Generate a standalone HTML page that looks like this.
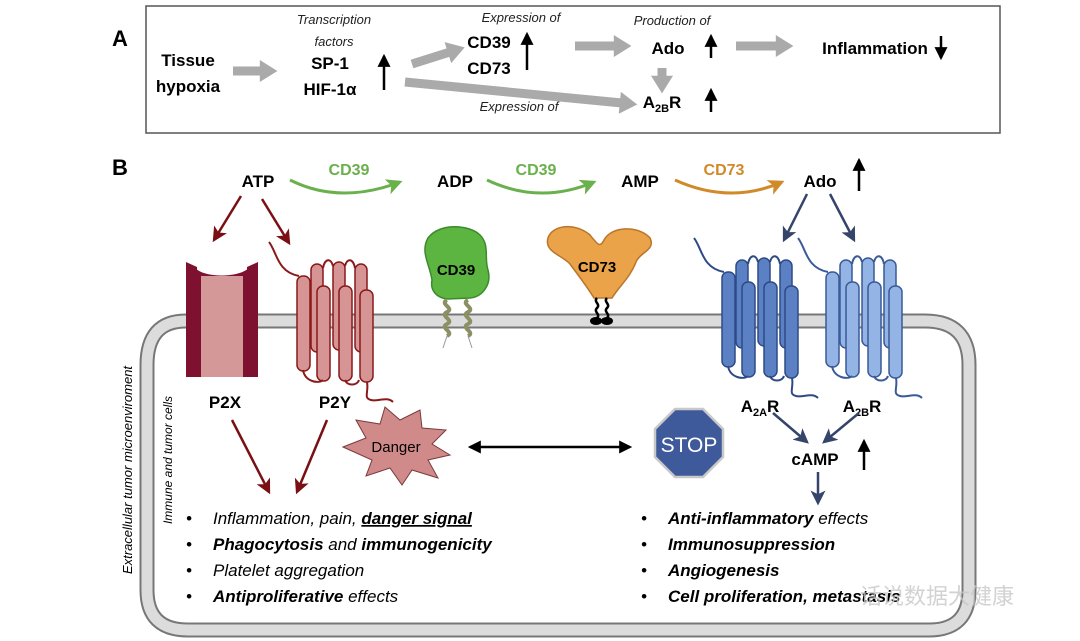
<!DOCTYPE html>
<html><head><meta charset="utf-8"><style>
body{margin:0;background:#fff}
svg{display:block;font-family:"Liberation Sans",Arial,sans-serif}
</style></head><body>
<svg width="1080" height="641" viewBox="0 0 1080 641" xmlns="http://www.w3.org/2000/svg">
<defs>
<symbol id="gp" overflow="visible">
 <path d="M-28,-20 C-20,-10 -20,10 2,14" fill="none" stroke-width="2"/>
 <g>
  <rect x="14" y="2" width="12" height="88" rx="6"/>
  <rect x="36" y="0" width="12" height="88" rx="6"/>
  <rect x="58" y="2" width="12" height="88" rx="6"/>
  <path d="M26,6 C28,-4 34,-4 36,4 M48,4 C50,-4 56,-4 58,6" fill="none" stroke-width="2"/>
  <rect x="0" y="14" width="13" height="95" rx="6"/>
  <rect x="20" y="24" width="13" height="95" rx="6"/>
  <rect x="42" y="24" width="13" height="95" rx="6"/>
  <rect x="63" y="28" width="13" height="92" rx="6"/>
  <path d="M6,108 C8,120 22,122 26,118 M48,118 C50,124 60,124 62,118 M70,120 C72,130 66,136 74,138 C80,140 90,134 96,140" fill="none" stroke-width="2"/>
 </g>
</symbol>
<marker id="ar" markerUnits="userSpaceOnUse" viewBox="0 0 12 12" markerWidth="15" markerHeight="15" refX="10" refY="6" orient="auto"><path d="M0,0 L12,6 L0,12 L3,6 Z" fill="#7a1014"/></marker>
<marker id="ab" markerUnits="userSpaceOnUse" viewBox="0 0 12 12" markerWidth="15" markerHeight="15" refX="10" refY="6" orient="auto"><path d="M0,0 L12,6 L0,12 L3,6 Z" fill="#34446a"/></marker>
<marker id="ag" markerUnits="userSpaceOnUse" viewBox="0 0 12 12" markerWidth="16" markerHeight="16" refX="10" refY="6" orient="auto"><path d="M0,0 L12,6 L0,12 L3,6 Z" fill="#6ab04c"/></marker>
<marker id="ao" markerUnits="userSpaceOnUse" viewBox="0 0 12 12" markerWidth="16" markerHeight="16" refX="10" refY="6" orient="auto"><path d="M0,0 L12,6 L0,12 L3,6 Z" fill="#d08a2a"/></marker>
<marker id="ak" markerUnits="userSpaceOnUse" viewBox="0 0 12 12" markerWidth="13" markerHeight="13" refX="10" refY="6" orient="auto-start-reverse"><path d="M0,0 L12,6 L0,12 Z" fill="#000"/></marker>
<marker id="gy" markerUnits="userSpaceOnUse" viewBox="0 0 16 20" markerWidth="18" markerHeight="22" refX="2" refY="10" orient="auto"><path d="M0,0 L16,10 L0,20 Z" fill="#aaa"/></marker>
</defs>

<text x="112" y="46" font-size="22" font-weight="bold">A</text>
<rect x="146" y="6" width="854" height="127" fill="none" stroke="#555" stroke-width="1.5"/>
<g font-weight="bold" font-size="17" text-anchor="middle">
<text x="188" y="66">Tissue</text><text x="188" y="92">hypoxia</text>
<text x="330" y="69">SP-1</text><text x="330" y="95">HIF-1α</text>
<text x="489" y="48">CD39</text><text x="489" y="74">CD73</text>
<text x="668" y="54">Ado</text>
<text x="875" y="54">Inflammation</text>
<text x="662" y="108">A<tspan font-size="11" dy="4">2B</tspan><tspan dy="-4">R</tspan></text>
</g>
<g font-style="italic" font-size="13" text-anchor="middle" fill="#222">
<text x="334" y="24">Transcription</text><text x="334" y="46">factors</text>
<text x="521" y="22">Expression of</text>
<text x="672" y="25">Production of</text>
<text x="519" y="111">Expression of</text>
</g>
<g stroke="#aaa" fill="none" stroke-width="9" marker-end="url(#gy)">
<line x1="233" y1="71" x2="262" y2="71"/>
<line x1="412" y1="64" x2="450" y2="52"/>
<line x1="405" y1="82" x2="622" y2="103"/>
<line x1="575" y1="46" x2="616" y2="46"/>
<line x1="736" y1="46" x2="778" y2="46"/>
<line x1="662" y1="68" x2="662" y2="78"/>
</g>
<g stroke="#000" stroke-width="2.5" marker-end="url(#ak)">
<line x1="384" y1="90" x2="384" y2="56"/>
<line x1="527" y1="70" x2="527" y2="34"/>
<line x1="711" y1="58" x2="711" y2="36"/>
<line x1="711" y1="112" x2="711" y2="90"/>
<line x1="941" y1="36" x2="941" y2="58"/>
</g>

<text x="112" y="175" font-size="22" font-weight="bold">B</text>
<path d="M186,321 H925 Q969,321 969,365 V590 Q969,630 929,630 H188 Q147,630 147,590 V365 Q147,321 186,321 Z" fill="none" stroke="#777" stroke-width="15"/>
<path d="M186,321 H925 Q969,321 969,365 V590 Q969,630 929,630 H188 Q147,630 147,590 V365 Q147,321 186,321 Z" fill="none" stroke="#dcdcdc" stroke-width="11"/>

<g font-weight="bold" font-size="17" text-anchor="middle">
<text x="258" y="187">ATP</text><text x="455" y="187">ADP</text><text x="640" y="187">AMP</text><text x="820" y="187">Ado</text>
<text x="225" y="408">P2X</text><text x="335" y="408">P2Y</text>
<text x="760" y="412">A<tspan font-size="11" dy="4">2A</tspan><tspan dy="-4">R</tspan></text>
<text x="862" y="412">A<tspan font-size="11" dy="4">2B</tspan><tspan dy="-4">R</tspan></text>
<text x="815" y="465">cAMP</text>
</g>
<g font-weight="bold" font-size="16" text-anchor="middle">
<text x="349" y="175" fill="#6ab04c">CD39</text><text x="536" y="175" fill="#6ab04c">CD39</text><text x="724" y="175" fill="#d08a2a">CD73</text>
</g>
<path d="M290,180 Q340,205 400,182" fill="none" stroke="#6ab04c" stroke-width="3" marker-end="url(#ag)"/>
<path d="M487,180 Q540,205 594,182" fill="none" stroke="#6ab04c" stroke-width="3" marker-end="url(#ag)"/>
<path d="M675,180 Q730,205 782,182" fill="none" stroke="#d08a2a" stroke-width="3" marker-end="url(#ao)"/>
<g stroke="#000" stroke-width="2.5" marker-end="url(#ak)">
<line x1="859" y1="191" x2="859" y2="160"/>
<line x1="864" y1="470" x2="864" y2="441"/>
</g>
<g stroke="#7a1014" stroke-width="2.5" marker-end="url(#ar)">
<line x1="241" y1="196" x2="214" y2="240"/>
<line x1="262" y1="199" x2="289" y2="243"/>
<line x1="232" y1="420" x2="269" y2="492"/>
<line x1="327" y1="420" x2="297" y2="492"/>
</g>
<g stroke="#34446a" stroke-width="2.5" marker-end="url(#ab)">
<line x1="807" y1="194" x2="784" y2="240"/>
<line x1="830" y1="194" x2="854" y2="240"/>
<line x1="773" y1="413" x2="807" y2="442"/>
<line x1="859" y1="413" x2="824" y2="442"/>
<line x1="818" y1="472" x2="818" y2="503"/>
</g>

<path d="M186,262 L197,267 V377 H186 Z M258,262 L247,267 V377 H258 Z" fill="#7e1030"/>
<path d="M195,268 C205,278 238,278 249,268 V377 H195 Z" fill="#7e1030"/>
<rect x="201" y="276" width="42" height="101" fill="#d49898"/>
<use href="#gp" x="297" y="262" fill="#d69494" stroke="#8a1a1a" stroke-width="1.5"/>
<use href="#gp" x="722" y="258" fill="#5b80c4" stroke="#2e4a86" stroke-width="1.5"/>
<use href="#gp" x="826" y="258" fill="#94b4e6" stroke="#3a5a98" stroke-width="1.5"/>

<path d="M428,238 C440,222 470,225 480,235 C490,245 484,258 488,270 C492,285 482,297 470,298 L448,299 C436,298 430,290 432,280 C430,265 420,252 428,238 Z" fill="#5db541" stroke="#3c8a2a" stroke-width="1.5"/>
<text x="456" y="275" font-weight="bold" font-size="15" text-anchor="middle">CD39</text>
<g fill="none" stroke="#8d9064" stroke-width="4">
<path d="M447,300 c-8,4 8,8 0,12 c-8,4 8,8 0,12 c-8,4 8,8 0,12"/>
<path d="M468,300 c-8,4 8,8 0,12 c-8,4 8,8 0,12 c-8,4 8,8 0,12"/>
</g>
<path d="M447,336 l-4,12 M468,336 l4,12" stroke="#999" stroke-width="1"/>
<path d="M548,238 C552,225 575,222 590,235 C598,245 600,248 604,240 C612,225 640,226 650,238 C656,250 640,252 636,262 C630,278 620,285 612,298 H594 C586,285 578,275 570,264 C562,255 544,252 548,238 Z" fill="#eba34a" stroke="#b9762a" stroke-width="1.5"/>
<text x="597" y="272" font-weight="bold" font-size="15" text-anchor="middle">CD73</text>
<g fill="none" stroke="#000" stroke-width="2.5">
<path d="M597,298 c-4,4 4,6 0,10 c-4,4 4,6 0,10"/><path d="M607,298 c-4,4 4,6 0,10 c-4,4 4,6 0,10"/>
</g>
<ellipse cx="596" cy="321" rx="6" ry="4"/><ellipse cx="607" cy="321" rx="6" ry="4"/>

<text transform="translate(132 470) rotate(-90)" font-style="italic" font-size="13" text-anchor="middle">Extracellular tumor microenviroment</text>
<text transform="translate(172 460) rotate(-90)" font-style="italic" font-size="12" text-anchor="middle">Immune and tumor cells</text>

<polygon points="343,447 366,438 356,420 380,424 385,407 400,420 420,410 422,428 446,430 432,444 450,455 428,460 438,478 412,470 402,485 390,468 366,476 372,460" fill="#d08a8a" stroke="#7a3a3a" stroke-width="1"/>
<text x="396" y="452" font-size="15" text-anchor="middle">Danger</text>
<line x1="470" y1="447" x2="630" y2="447" stroke="#000" stroke-width="2.5" marker-end="url(#ak)" marker-start="url(#ak)"/>
<polygon points="675,409 703,409 723,429 723,457 703,477 675,477 655,457 655,429" fill="#3e5a9a" stroke="#c8c8c8" stroke-width="2.5"/>
<text x="689" y="452" font-size="21" fill="#fff" text-anchor="middle">STOP</text>

<g font-size="17" font-style="italic">
<text x="186" y="524">•</text><text x="213" y="524">Inflammation, pain, <tspan font-weight="bold" text-decoration="underline">danger signal</tspan></text>
<text x="186" y="550">•</text><text x="213" y="550"><tspan font-weight="bold">Phagocytosis</tspan> and <tspan font-weight="bold">immunogenicity</tspan></text>
<text x="186" y="576">•</text><text x="213" y="576">Platelet aggregation</text>
<text x="186" y="602">•</text><text x="213" y="602"><tspan font-weight="bold">Antiproliferative</tspan> effects</text>
<text x="641" y="524">•</text><text x="668" y="524"><tspan font-weight="bold">Anti-inflammatory</tspan> effects</text>
<text x="641" y="550">•</text><text x="668" y="550" font-weight="bold">Immunosuppression</text>
<text x="641" y="576">•</text><text x="668" y="576" font-weight="bold">Angiogenesis</text>
<text x="641" y="602">•</text><text x="668" y="602" font-weight="bold">Cell proliferation, metastasis</text>
</g>
<text x="860" y="604" font-size="22" fill="#c8c8c8" opacity="0.8" font-family="Liberation Sans,Noto Sans CJK SC,sans-serif">话说数据大健康</text>
</svg>
</body></html>
